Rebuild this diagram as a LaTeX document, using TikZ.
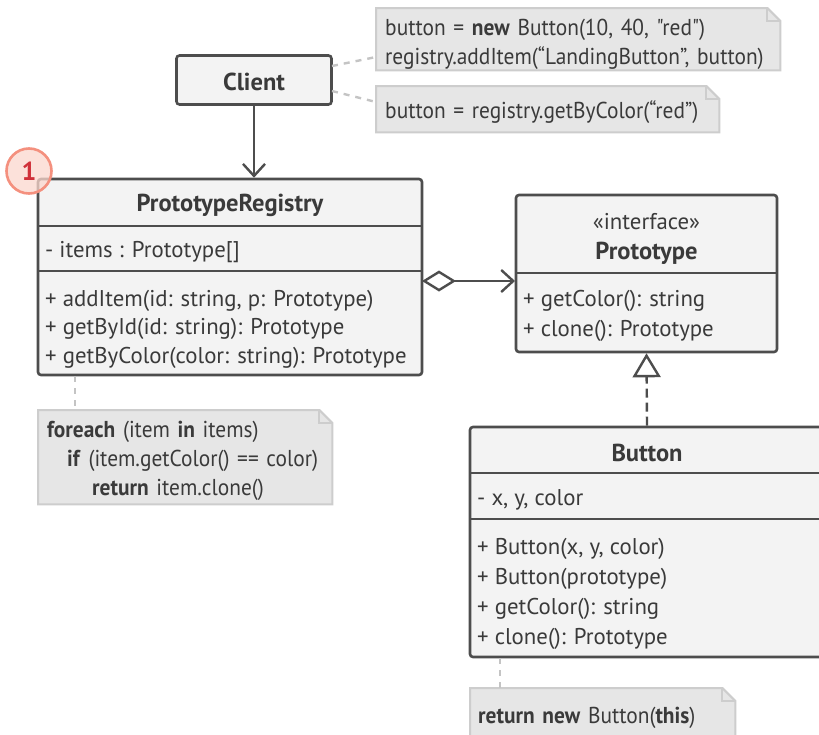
\documentclass[tikz,border=0pt]{standalone}
\usepackage{fontspec}
\setmainfont{PT Sans}
\newfontfamily\notefont[FakeStretch=0.93]{PT Sans}
\usetikzlibrary{arrows.meta,calc}
\definecolor{boxline}{HTML}{4D4D4D}
\definecolor{boxfill}{HTML}{F3F3F3}
\definecolor{txtc}{HTML}{3A3A3A}
\definecolor{notefill}{HTML}{E6E6E6}
\definecolor{noteline}{HTML}{CDCDCD}
\definecolor{dashc}{HTML}{C4C4C4}
\definecolor{badgefill}{HTML}{FCD8CE}
\definecolor{badgeline}{HTML}{F4907E}
\definecolor{badgetxt}{HTML}{D0313A}
\tikzset{
  umlbox/.style={draw=boxline, fill=boxfill, line width=2.6pt, rounded corners=3pt, inner sep=0pt},
  sepline/.style={draw=boxline, line width=2.4pt},
  mtxt/.style={anchor=west, inner sep=0pt, yshift=-2.5pt, text=txtc, font=\fontsize{22.8}{26}\selectfont},
  htxt/.style={anchor=center, inner sep=0pt, yshift=-1.5pt, text=txtc, font=\fontsize{24.5}{28}\selectfont\bfseries},
  notebox/.style={anchor=north west, inner xsep=9pt, inner ysep=0pt, align=left, text=txtc,
     font=\notefont\fontsize{23}{29}\selectfont},
  noteshape/.style={draw=noteline, fill=notefill, line width=2pt},
  notelink/.style={draw=dashc, line width=2.4pt, dash pattern=on 6pt off 6pt},
  conn/.style={draw=boxline, line width=2.4pt},
}
\newcommand{\notedraw}[1]{%
  \path[noteshape] (#1.north west) -- ($(#1.north east)+(-13,0)$) -- ($(#1.north east)+(0,13)$)
     -- (#1.south east) -- (#1.south west) -- cycle;
  \draw[noteline, line width=2pt] ($(#1.north east)+(-13,0)$) -- ($(#1.north east)+(-13,13)$) -- ($(#1.north east)+(0,13)$);
}
\begin{document}
\begin{tikzpicture}[x=1pt,y=-1pt]
\useasboundingbox (0,0) rectangle (819,734);
\fill[white] (0,0) rectangle (819,734);

% ---------- Notes ----------
\node[notebox, minimum width=404pt, minimum height=62pt, text width=386pt] (n1) at (376,8) {};
\notedraw{n1}
\node[notebox, minimum width=404pt, minimum height=62pt, text width=386pt] (n1t) at (376,13.5)
  {button = \textbf{new} Button(10, 40, "red")\\registry.addItem(“LandingButton”, button)};

\node[notebox, minimum width=343pt, minimum height=46pt, text width=325pt] (n2) at (376,86) {};
\notedraw{n2}
\node[notebox, minimum width=343pt, minimum height=46pt, text width=325pt] (n2t) at (376,88.5)
  {button = registry.getByColor(“red”)};

\node[notebox, minimum width=294pt, minimum height=94pt, text width=276pt] (n3) at (38,410) {};
\notedraw{n3}
\node[notebox, minimum width=294pt, minimum height=94pt, text width=276pt, inner xsep=8pt] (n3t) at (38,414)
  {\textbf{foreach} (item \textbf{in} items)\\\hspace*{20pt}\textbf{if} (item.getColor() == color)\\\hspace*{45pt}\textbf{return} item.clone()};

\node[notebox, minimum width=265pt, minimum height=56pt, text width=247pt] (n4) at (470,688) {};
\notedraw{n4}
\node[notebox, text width=247pt, anchor=west, inner xsep=8pt] (n4t) at (470,718)
  {\textbf{return new} Button(\textbf{this})};

% ---------- Client ----------
\node[umlbox, minimum width=155pt, minimum height=49pt] (client) at (254,80) {};
\node[htxt] (clientt) at (254,80) {Client};

% ---------- PrototypeRegistry ----------
\node[umlbox, minimum width=384pt, minimum height=196pt] (reg) at (230,277) {};
\draw[sepline] (38,226) -- (422,226);
\draw[sepline] (38,271) -- (422,271);
\node[htxt] (regh) at (230,204) {PrototypeRegistry};
\node[mtxt] (regf) at (45,250) {- items : Prototype[]};
\node[mtxt] (regm1) at (45,298) {+ addItem(id: string, p: Prototype)};
\node[mtxt] (regm2) at (45,326) {+ getById(id: string): Prototype};
\node[mtxt] (regm3) at (45,355) {+ getByColor(color: string): Prototype};

% ---------- Prototype ----------
\node[umlbox, minimum width=261pt, minimum height=157pt] (proto) at (646.5,273.5) {};
\draw[sepline] (516,273) -- (777,273);
\node[mtxt, anchor=center] (protos) at (646.5,219) {«interface»};
\node[htxt] (protoh) at (646.5,252) {Prototype};
\node[mtxt] (protom1) at (523,298) {+ getColor(): string};
\node[mtxt] (protom2) at (523,328) {+ clone(): Prototype};

% ---------- Button ----------
\node[umlbox, minimum width=354pt, minimum height=230pt] (btn) at (647,542) {};
\draw[sepline] (470,473) -- (824,473);
\draw[sepline] (470,519) -- (824,519);
\node[htxt] (btnh) at (647,451) {Button};
\node[mtxt] (btnf) at (477,497) {- x, y, color};
\node[mtxt] (btnm1) at (477,546) {+ Button(x, y, color)};
\node[mtxt] (btnm2) at (477,576) {+ Button(prototype)};
\node[mtxt] (btnm3) at (477,606) {+ getColor(): string};
\node[mtxt] (btnm4) at (477,636) {+ clone(): Prototype};

% ---------- Connectors ----------
\coordinate (l1a) at (332,66); \coordinate (l1b) at (376,57);
\coordinate (l2a) at (332,91); \coordinate (l2b) at (376,102);
\draw[notelink] (l1a) -- (l1b);
\draw[notelink] (l2a) -- (l2b);
\coordinate (r3a) at (75,376);
\draw[notelink] (r3a) -- (r3a |- n3.north);
\coordinate (b4a) at (500,658);
\draw[notelink] (b4a) -- (b4a |- n4.north);

\draw[conn, -{Straight Barb[length=12pt, width=22pt, line width=2.4pt]}] (client.south) -- (client.south |- reg.north);

\coordinate (aggA) at (422,281); \coordinate (aggB) at (515,281);
\draw[conn, {Diamond[open, length=34pt, width=21pt, line width=2.4pt, fill=white]}-{Straight Barb[length=12pt, width=22pt, line width=2.4pt]}] (aggA) -- (aggB);

\draw[conn, dash pattern=on 9pt off 5pt, -{Triangle[open, length=24pt, width=28pt, line width=2.4pt, fill=white]}] (btn.north) -- (proto.south);

% ---------- Badge ----------
\node[circle, draw=badgeline, fill=badgefill, fill opacity=0.75, text opacity=1, line width=2.6pt,
      minimum size=45pt, inner sep=0pt, text=badgetxt, font=\fontsize{26}{26}\selectfont\bfseries] (badge) at (29,171) {1};
\end{tikzpicture}
\end{document}
